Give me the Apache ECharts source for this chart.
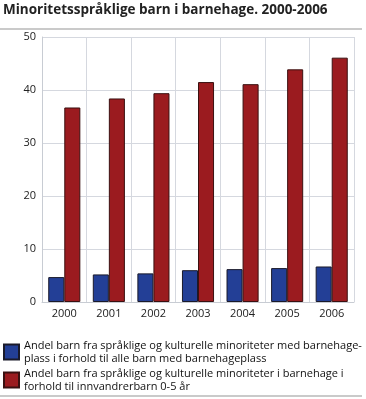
<!DOCTYPE html>
<html><head><meta charset="utf-8">
<script src="https://cdn.jsdelivr.net/npm/echarts@6/dist/echarts.min.js"></script>
<style>html,body{margin:0;padding:0;background:#fff}#c{width:366px;height:399px}</style>
</head><body><div id="c"></div>
<script>
const titleText = "Minoritetsspråklige barn i barnehage. 2000-2006";
const categories = ["2000","2001","2002","2003","2004","2005","2006"];
const seriesNames = [
  "Andel barn fra språklige og kulturelle minoriteter med barnehage-\nplass i forhold til alle barn med barnehageplass",
  "Andel barn fra språklige og kulturelle minoriteter i barnehage i\nforhold til innvandrerbarn 0-5 år"
];
const blueValues = [4.7, 5.2, 5.4, 6.0, 6.2, 6.4, 6.7];
const redValues = [36.7, 38.4, 39.4, 41.5, 41.1, 43.9, 46.1];
const yTicks = [0, 10, 20, 30, 40, 50];

const font = "'Open Sans', 'DejaVu Sans', sans-serif";
const legendText = {fontSize:11, color:'#111', lineHeight:13, fontFamily:font};
const chart = echarts.init(document.getElementById('c'), null, {renderer:'canvas'});
chart.setOption({
  animation:false,
  backgroundColor:'#fff',
  textStyle:{fontFamily:font},
  title:{text:titleText, left:3, top:3, padding:0, textStyle:{fontSize:13.5, fontWeight:'bold', color:'#222', fontFamily:font}},
  graphic:[
    {type:'line', shape:{x1:0,y1:29,x2:362,y2:29}, style:{stroke:'#b8b8b8', lineWidth:1.5}},
    {type:'line', shape:{x1:0,y1:396,x2:362,y2:396}, style:{stroke:'#b8b8b8', lineWidth:1.5}}
  ],
  legend:[
    {orient:'vertical', left:3, top:339, padding:0, itemWidth:15, itemHeight:15, icon:'rect',
      textStyle:legendText, data:[seriesNames[0]]},
    {orient:'vertical', left:3, top:367, padding:0, itemWidth:15, itemHeight:15, icon:'rect',
      textStyle:legendText, data:[seriesNames[1]]}
  ],
  grid:{left:42, right:12, top:37, bottom:97, containLabel:false},
  xAxis:{type:'category', data:categories,
    axisLine:{lineStyle:{color:'#c8ccd3'}}, axisTick:{show:false},
    axisLabel:{color:'#222', fontSize:11, margin:6},
    splitLine:{show:true, lineStyle:{color:'#d5d8df', width:1}}},
  yAxis:{type:'value', min:0, max:50, interval:10,
    axisLine:{show:true, lineStyle:{color:'#c8ccd3'}}, axisTick:{show:false},
    axisLabel:{color:'#222', fontSize:11, margin:6, formatter:v=>yTicks.includes(v)?String(v):''},
    splitLine:{lineStyle:{color:'#d5d8df', width:1}}},
  series:[
    {name:seriesNames[0], type:'bar', data:blueValues, barGap:'0%', barCategoryGap:'28%',
      itemStyle:{color:'#233f96', borderColor:'#1a1a2a', borderWidth:1}},
    {name:seriesNames[1], type:'bar', data:redValues, barGap:'0%', barCategoryGap:'28%',
      itemStyle:{color:'#9b1b1f', borderColor:'#3a1010', borderWidth:1}}
  ]
});
</script></body></html>
